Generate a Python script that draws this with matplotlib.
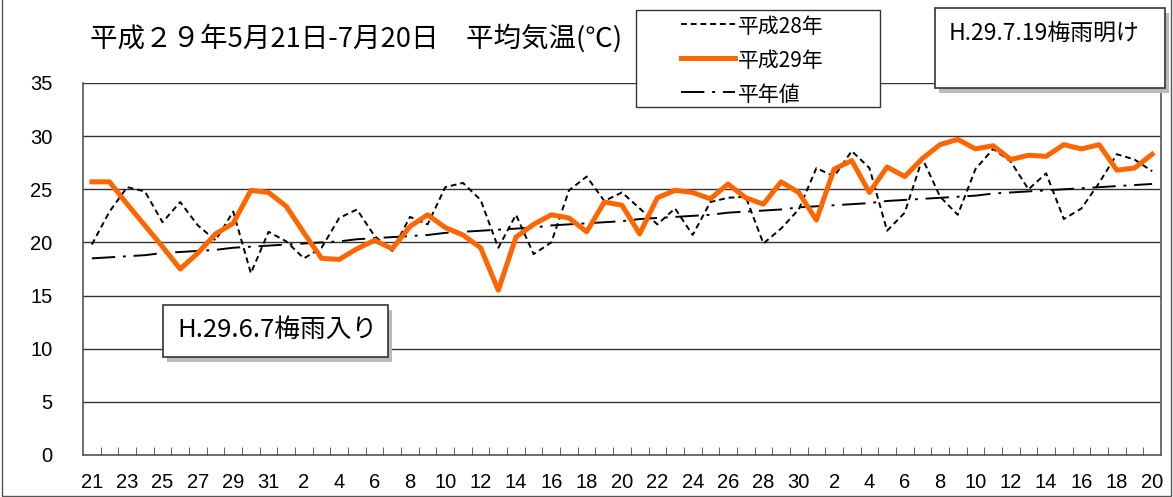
import matplotlib.pyplot as plt
import matplotlib.patches as mpatches
from matplotlib.lines import Line2D
from matplotlib import font_manager

# May 21 - Jul 20 (61 days)
days = list(range(21, 32)) + list(range(1, 31)) + list(range(1, 21))

temp_h28 = [19.8, 22.9, 25.2, 24.8, 21.9, 23.8, 21.6, 20.2, 22.9, 17.1, 21.0,
            20.1, 18.5, 19.5, 22.3, 23.1, 20.6, 19.2, 22.4, 21.7, 25.2,
            25.6, 24.0, 19.5, 22.6, 18.9, 20.0, 24.9, 26.2, 23.9, 24.7,
            23.2, 21.7, 23.2, 20.7, 23.8, 24.2, 24.3, 19.9, 21.3, 23.1,
            27.0, 26.2, 28.6, 27.0, 21.1, 22.8, 27.9, 24.3, 22.6, 26.9,
            28.8, 27.6, 25.0, 26.5, 22.2, 23.2, 25.6, 28.3, 27.8, 26.7]

temp_h29 = [25.7, 25.7, 23.6, 21.6, 19.6, 17.5, 19.0, 20.8, 21.8, 24.9, 24.7,
            23.4, 20.9, 18.5, 18.4, 19.4, 20.2, 19.4, 21.5, 22.6, 21.4,
            20.7, 19.5, 15.5, 20.5, 21.7, 22.6, 22.3, 21.0, 23.8, 23.5,
            20.8, 24.2, 24.9, 24.7, 24.1, 25.5, 24.2, 23.6, 25.7, 24.7,
            22.1, 26.9, 27.7, 24.7, 27.1, 26.2, 27.9, 29.2, 29.7, 28.8,
            29.1, 27.8, 28.2, 28.1, 29.2, 28.8, 29.2, 26.8, 27.0, 28.3]

temp_normal = [18.5, 18.6, 18.7, 18.8, 19.0, 19.1, 19.2, 19.3, 19.5, 19.6, 19.7,
               19.8, 19.9, 20.0, 20.1, 20.3, 20.4, 20.5, 20.6, 20.7, 20.9,
               21.0, 21.1, 21.2, 21.3, 21.4, 21.6, 21.7, 21.8, 21.9, 22.0,
               22.2, 22.3, 22.4, 22.5, 22.6, 22.8, 22.9, 23.0, 23.1, 23.3,
               23.4, 23.5, 23.6, 23.7, 23.9, 24.0, 24.1, 24.2, 24.3, 24.4,
               24.6, 24.7, 24.8, 24.9, 25.0, 25.1, 25.2, 25.3, 25.4, 25.5]

series_labels = ['平成28年', '平成29年', '平年値']
y_ticks = [0, 5, 10, 15, 20, 25, 30, 35]

W, H = 1173, 497

names = {f.name for f in font_manager.fontManager.ttflist}
num_font = 'Liberation Sans Narrow' if 'Liberation Sans Narrow' in names else 'Liberation Sans'
jp_font = ['Noto Sans CJK JP', 'DejaVu Sans']
plt.rcParams['font.family'] = jp_font

fig = plt.figure(figsize=(W / 100, H / 100), dpi=100)
ax = fig.add_axes([83 / W, 42 / H, 1078 / W, 372 / H])


def fx(px):
    return px / W


def fy(py):
    return 1 - py / H


# outer frame of the chart area
fig.add_artist(mpatches.Rectangle((0.002, 0.002), 0.996, 1.2, transform=fig.transFigure,
                                  fill=False, edgecolor='#555555', lw=1))

styles = [dict(color='black', lw=1.4, linestyle=(0, (3, 2))),
          dict(color='#FF6600', lw=3.6),
          dict(color='black', lw=1.4, linestyle=(0, (12, 4, 1.5, 4)))]

x = list(range(len(days)))
for vals, st, z in zip([temp_h28, temp_h29, temp_normal], styles, [3, 4, 3]):
    ax.plot(x, vals, zorder=z, **st)

ax.set_xlim(-0.5, len(days) - 0.5)
ax.set_ylim(0, 35)
ax.set_yticks(y_ticks)
ax.yaxis.grid(True, color='#333333', lw=1)
ax.set_axisbelow(True)
ax.tick_params(axis='y', length=0, pad=22)
for lab in ax.get_yticklabels():
    lab.set_fontfamily(num_font)
    lab.set_fontsize(14.5)

ax.set_xticks(x[::2])
ax.set_xticklabels([str(d) for d in days[::2]], fontfamily=num_font, fontsize=14.5)
ax.set_xticks([i + 0.5 for i in x[:-1]], minor=True)
ax.tick_params(axis='x', which='major', length=0, pad=13)
ax.tick_params(axis='x', which='minor', direction='in', length=6, color='#444444')

ax.spines['top'].set_visible(False)
for side in ['left', 'right', 'bottom']:
    ax.spines[side].set_color('#555555')
    ax.spines[side].set_linewidth(1.2)

fig.text(fx(90), fy(38), '平成２９年5月21日-7月20日　平均気温(℃)', fontsize=19.8,
         va='center', ha='left', family=jp_font)

# legend box drawn by hand to match the original layout
fig.add_artist(mpatches.Rectangle((fx(636), fy(107)), 244 / W, 97 / H,
                                  transform=fig.transFigure, facecolor='white',
                                  edgecolor='#333333', lw=1, zorder=10))
for k, (lab, st) in enumerate(zip(series_labels, styles)):
    yy = fy(24 + 34 * k)
    fig.add_artist(Line2D([fx(681), fx(735)], [yy, yy], transform=fig.transFigure,
                          zorder=11, **st))
    fig.text(fx(738), fy(27 + 34 * k), lab, fontsize=15, va='center', ha='left',
             family=jp_font, zorder=11)


def note_box(x0, y0, w, h, text, tx, ty, size):
    shadow = mpatches.Rectangle((fx(x0 + 4), fy(y0 + h + 5)), w / W, h / H,
                                transform=fig.transFigure, facecolor='#bbbbbb',
                                edgecolor='none', zorder=9)
    box = mpatches.Rectangle((fx(x0), fy(y0 + h)), w / W, h / H,
                             transform=fig.transFigure, facecolor='white',
                             edgecolor='#333333', lw=1.2, zorder=10)
    fig.add_artist(shadow)
    fig.add_artist(box)
    fig.text(fx(tx), fy(ty), text, fontsize=size, va='center', ha='left',
             family=jp_font, zorder=11)


note_box(935, 8, 230, 80, 'H.29.7.19梅雨明け', 949, 33, 16.5)
note_box(163, 305, 225, 52, 'H.29.6.7梅雨入り', 177, 330, 18.5)

fig.savefig('out.png', dpi=100)
